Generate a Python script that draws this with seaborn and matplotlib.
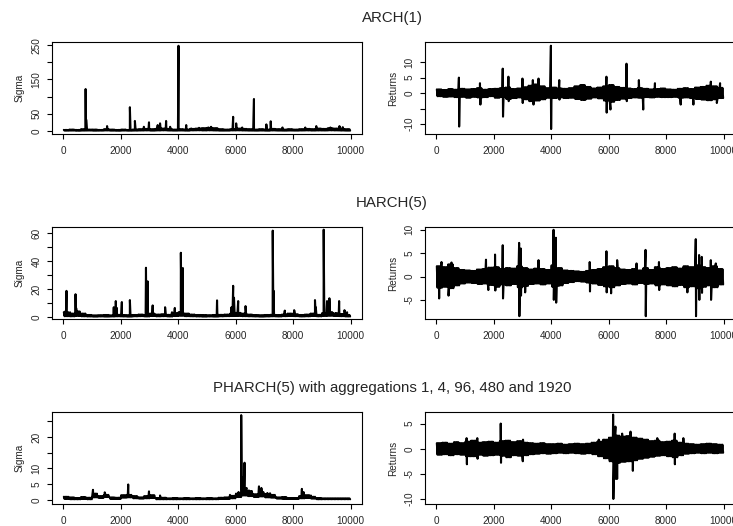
import numpy as np
import pandas as pd
import matplotlib
matplotlib.use("Agg")
import matplotlib.pyplot as plt
import seaborn as sns

# R-like base graphics look: white, boxed, outward ticks
sns.set_style("ticks")
plt.rcParams["font.family"] = ["Liberation Sans", "DejaVu Sans"]

# --- values ------------------------------------------------------------
# noise band: upper/lower envelope per 200-step block, plus spikes (t, value)

# ARCH(1)
arch_sig_hi = [3, 4, 3, 5, 4, 4, 3, 5, 4, 3,
               4, 3, 4, 5, 6, 5, 6, 7, 6, 4,
               5, 4, 6, 7, 8, 9, 8, 5, 4, 5,
               7, 6, 5, 4, 5, 4, 6, 5, 4, 5,
               4, 5, 6, 5, 7, 6, 8, 7, 6, 5]
arch_sig_lo = [0.8, 1.0, 0.6, 0.9, 1.1, 0.7, 0.9, 1.2, 0.8, 0.6,
               1.0, 0.7, 0.9, 1.1, 1.3, 0.8, 1.2, 1.5, 1.0, 0.9,
               1.1, 0.8, 1.4, 1.6, 1.2, 1.5, 1.1, 0.8, 0.9, 1.3,
               1.4, 1.1, 0.9, 0.8, 1.0, 0.7, 1.2, 0.9, 0.8, 1.0,
               0.9, 1.1, 1.3, 1.0, 1.2, 1.1, 1.5, 1.3, 1.0, 0.8]
arch_sig_spike_t = [771, 790, 1519, 2313, 2488, 2800, 2979, 3283, 3364, 3575, 3715,
                    4007, 4276, 4451, 4720, 5050, 5140, 5911, 6016, 6227, 6636,
                    7068, 7220, 7630, 8423, 8808, 9299, 9615, 9731]
arch_sig_spike_v = [122, 33, 14, 69, 29, 12, 25, 17, 22, 29, 12,
                    248, 17, 7, 9, 10, 12, 41, 22, 10, 93,
                    19, 28, 10, 10, 14, 10, 14, 11]

arch_ret_hi = [1.2, 1.0, 1.3, 1.1, 1.4, 1.2, 1.3, 1.6, 1.1, 1.3,
               1.4, 1.6, 1.8, 1.3, 1.5, 1.9, 2.4, 2.8, 2.2, 1.6,
               1.8, 1.5, 1.4, 1.6, 2.2, 2.6, 2.0, 1.5, 1.8, 2.2,
               2.6, 2.0, 1.7, 1.5, 1.3, 1.6, 1.4, 1.2, 1.3, 1.5,
               1.2, 1.1, 1.4, 1.6, 1.3, 1.8, 2.0, 2.4, 2.2, 1.7]
arch_ret_lo = [-1.0, -1.2, -1.1, -1.3, -1.2, -1.5, -1.2, -1.4, -1.3, -1.0,
               -1.5, -1.3, -1.9, -1.6, -1.4, -2.0, -2.6, -2.4, -2.0, -1.5,
               -1.6, -1.4, -1.6, -1.5, -1.9, -2.2, -1.8, -1.4, -1.7, -2.4,
               -2.8, -2.2, -1.8, -1.6, -1.4, -1.5, -1.3, -1.4, -1.2, -1.3,
               -1.3, -1.2, -1.5, -1.4, -1.6, -1.9, -2.1, -2.3, -2.0, -1.6]
arch_ret_spike_t = [781, 790, 1515, 1530, 2308, 2318, 2506, 2515, 2995, 3005,
                    3357, 3380, 3555, 3986, 3994, 4277, 4285, 5921, 5930, 6061,
                    6620, 6630, 7051, 7203, 7611, 8508, 8951, 9557, 9767, 9880]
arch_ret_spike_v = [5.0, -10.8, 3.2, -3.7, 7.9, -7.6, 5.3, -2.6, 4.7, -3.2,
                    4.2, -3.7, 4.7, 15.3, -11.6, 4.2, -2.1, 5.3, -6.3, -5.3,
                    9.5, -2.6, 4.2, -5.3, 3.2, -3.7, -3.7, 3.7, -3.2, 3.2]

# HARCH(5)
harch_sig_hi = [3.5, 2.5, 4.0, 2.5, 1.5, 1.2, 1.3, 1.5, 1.2, 1.6,
                1.4, 1.3, 1.5, 1.8, 1.4, 2.5, 1.8, 2.0, 1.6, 2.8,
                3.5, 2.5, 1.8, 1.5, 1.4, 1.3, 1.5, 1.6, 1.8, 2.5,
                3.0, 2.5, 1.8, 1.4, 1.3, 1.5, 1.6, 1.4, 1.8, 2.5,
                2.0, 1.5, 1.8, 2.5, 1.6, 2.8, 3.5, 2.6, 2.2, 1.5]
harch_sig_lo = [0.6, 0.5, 0.8, 0.5, 0.4, 0.3, 0.4, 0.3, 0.4, 0.5,
                0.4, 0.3, 0.5, 0.6, 0.4, 0.7, 0.5, 0.6, 0.4, 0.7,
                0.9, 0.6, 0.5, 0.4, 0.3, 0.4, 0.3, 0.5, 0.6, 0.7,
                0.8, 0.6, 0.5, 0.4, 0.3, 0.4, 0.5, 0.4, 0.6, 0.7,
                0.6, 0.4, 0.5, 0.7, 0.5, 0.8, 0.9, 0.7, 0.6, 0.4]
harch_sig_spike_t = [60, 105, 230, 420, 440, 1752, 1822, 1860, 2033, 2313,
                     2874, 2932, 3107, 3540, 3780, 3879, 4089, 4159, 5350, 5853,
                     5911, 5940, 6086, 6343, 7290, 7320, 7710, 8037, 8762, 8790,
                     9065, 9182, 9264, 9500, 9603, 9790, 9880]
harch_sig_spike_v = [4, 18.7, 3.4, 16.3, 6.5, 7, 11.4, 6.5, 10.7, 12.1,
                     35.2, 25.5, 8.3, 7, 3.4, 6.5, 45.9, 35, 11.9, 7,
                     22.3, 13.8, 11.4, 7.8, 61.7, 18.7, 4.6, 4.9, 12.1, 7,
                     62.4, 11.4, 13.4, 2.9, 11.4, 4.9, 3.4]

harch_ret_hi = [2.2, 2.0, 2.6, 1.8, 1.4, 1.3, 1.2, 1.5, 1.6, 1.9,
                2.0, 1.6, 1.8, 1.7, 2.2, 1.8, 1.5, 1.7, 1.6, 1.4,
                2.4, 1.8, 1.3, 1.2, 1.1, 1.0, 1.2, 1.4, 1.6, 2.0,
                2.2, 1.8, 1.5, 1.4, 1.6, 1.3, 1.8, 1.4, 2.0, 1.6,
                1.8, 2.0, 1.7, 2.2, 2.0, 2.4, 2.0, 1.8, 2.2, 1.6]
harch_ret_lo = [-2.4, -2.2, -2.5, -1.9, -1.5, -1.3, -1.4, -1.6, -1.5, -1.8,
                -2.2, -1.7, -1.9, -1.6, -2.3, -2.0, -1.6, -1.5, -1.7, -1.5,
                -2.2, -1.9, -1.4, -1.2, -1.0, -1.1, -1.3, -1.5, -1.8, -2.1,
                -2.3, -1.9, -1.6, -1.5, -1.7, -1.4, -1.6, -1.5, -1.9, -1.7,
                -1.9, -2.1, -1.8, -2.3, -2.1, -2.5, -2.2, -1.9, -2.3, -1.7]
harch_ret_spike_t = [93, 175, 420, 524, 1725, 1807, 2040, 2050, 2308, 2318,
                     2879, 2888, 2937, 2945, 3089, 3555, 4079, 4088, 4161, 4170,
                     4254, 5338, 5348, 5921, 5930, 6084, 6294, 6970, 7284, 7292,
                     7751, 7760, 8741, 9033, 9042, 9149, 9158, 9242, 9251, 9557,
                     9566, 9732, 9790]
harch_ret_spike_v = [-4.7, 3.1, -4.1, 3.0, 3.6, -2.9, 4.7, -3.0, 6.7, -4.7,
                     7.2, -8.5, 6.0, -4.1, -3.4, 3.5, 10.0, -5.0, 8.3, -5.6,
                     -2.0, 3.1, -3.2, 5.4, -3.4, -3.6, 3.5, 2.8, 5.7, -8.5,
                     3.1, -2.9, -3.4, 8.0, -8.5, 4.6, -5.0, 4.2, -3.5, 3.5,
                     -5.0, 2.8, -2.0]

# PHARCH(5)
pharch_sig_hi = [1.0, 0.8, 0.6, 0.9, 0.7, 2.0, 1.2, 1.6, 0.8, 0.7,
                 1.5, 1.6, 1.2, 0.8, 1.2, 1.5, 0.6, 0.7, 0.5, 0.6,
                 0.5, 0.6, 0.5, 0.6, 0.5, 0.6, 0.5, 0.7, 0.8, 1.3,
                 2.0, 3.5, 2.8, 1.8, 2.5, 1.9, 1.6, 0.8, 0.9, 0.6,
                 0.6, 1.2, 1.5, 1.0, 0.6, 0.5, 0.5, 0.5, 0.5, 0.5]
pharch_sig_lo = [0.3, 0.2, 0.2, 0.3, 0.2, 0.8, 0.6, 0.9, 0.3, 0.3,
                 0.7, 0.8, 0.5, 0.4, 0.5, 0.6, 0.2, 0.2, 0.2, 0.2,
                 0.2, 0.2, 0.2, 0.2, 0.2, 0.2, 0.2, 0.3, 0.3, 0.5,
                 0.9, 1.4, 1.2, 0.9, 1.1, 0.8, 0.7, 0.4, 0.3, 0.3,
                 0.3, 0.5, 0.6, 0.4, 0.2, 0.2, 0.2, 0.2, 0.2, 0.2]
pharch_sig_spike_t = [1028, 1060, 1437, 2255, 2979, 3364, 5800, 6100, 6192, 6230,
                      6308, 6379, 6460, 6811, 6893, 7103, 7196, 8306, 8364, 8621]
pharch_sig_spike_v = [3.2, 2.0, 2.4, 4.9, 2.7, 1.4, 1.6, 2.5, 26.9, 7.2,
                      11.8, 3.8, 3.0, 4.3, 3.8, 2.2, 2.1, 3.5, 2.5, 1.4]

pharch_ret_hi = [1.1, 1.2, 1.0, 1.3, 1.1, 1.4, 1.6, 1.2, 1.3, 1.4,
                 1.2, 1.5, 1.6, 1.3, 1.5, 1.2, 1.1, 1.0, 1.1, 0.9,
                 0.9, 1.0, 0.8, 0.9, 1.0, 0.9, 1.0, 1.2, 1.4, 1.8,
                 2.2, 2.6, 2.4, 2.5, 2.2, 2.0, 1.8, 1.5, 1.6, 1.3,
                 1.4, 1.6, 1.2, 1.0, 0.9, 0.8, 0.9, 1.0, 0.9, 0.8]
pharch_ret_lo = [-1.2, -1.1, -1.3, -1.1, -1.2, -1.5, -1.5, -1.2, -1.4, -1.3,
                 -1.2, -1.4, -1.7, -1.3, -1.4, -1.3, -1.1, -1.0, -0.9, -1.0,
                 -0.9, -0.8, -0.9, -0.8, -0.9, -1.0, -0.9, -1.1, -1.5, -1.9,
                 -2.5, -2.8, -2.6, -2.5, -2.3, -2.0, -1.8, -1.6, -1.4, -1.3,
                 -1.5, -1.7, -1.3, -1.0, -0.9, -0.8, -0.9, -0.8, -0.9, -0.8]
pharch_ret_spike_t = [1049, 1060, 1422, 1432, 2238, 2248, 3007, 3015, 5653, 6154,
                      6162, 6235, 6245, 6294, 6469, 6760, 6841, 7692, 8298, 8306, 8601]
pharch_ret_spike_v = [2.1, -3.1, 2.1, -2.0, 5.0, -2.8, -2.5, 1.8, 1.8, 6.8,
                      -10.0, 4.4, -6.0, -6.0, 3.0, 3.4, -4.4, 2.1, 3.0, -3.1, 2.1]

titles = ["ARCH(1)", "HARCH(5)", "PHARCH(5) with aggregations 1, 4, 96, 480 and 1920"]


def series(hi, lo, spike_t, spike_v):
    # each 200-step block swings between its upper and lower envelope
    # every 25 steps, so the noise reads as a solid band like the original
    hi = np.asarray(hi, float)
    lo = np.asarray(lo, float)
    k = np.arange(8)
    t_band = (np.arange(len(hi))[:, None] * 200 + 12 + k[None, :] * 25).ravel()
    v_band = np.where(k[None, :] % 2 == 0, hi[:, None], lo[:, None]).ravel()
    t = np.concatenate([t_band, spike_t])
    v = np.concatenate([v_band, spike_v])
    return pd.DataFrame({"t": t, "v": v}).sort_values("t", kind="stable")


panels = [
    # (row, col, data, ylabel, ylim, yticks, ylabels)
    (0, 0, series(arch_sig_hi, arch_sig_lo, arch_sig_spike_t, arch_sig_spike_v), "Sigma",
     (-9, 259), [0, 50, 100, 150, 200, 250], ["0", "50", "", "150", "", "250"]),
    (0, 1, series(arch_ret_hi, arch_ret_lo, arch_ret_spike_t, arch_ret_spike_v), "Returns",
     (-13.2, 16.5), [-10, -5, 0, 5, 10], ["-10", "", "0", "5", "10"]),
    (1, 0, series(harch_sig_hi, harch_sig_lo, harch_sig_spike_t, harch_sig_spike_v), "Sigma",
     (-1.4, 64.3), [0, 10, 20, 30, 40, 50, 60], ["0", "", "20", "", "40", "", "60"]),
    (1, 1, series(harch_ret_hi, harch_ret_lo, harch_ret_spike_t, harch_ret_spike_v), "Returns",
     (-9.1, 10.6), [-5, 0, 5, 10], ["-5", "0", "5", "10"]),
    (2, 0, series(pharch_sig_hi, pharch_sig_lo, pharch_sig_spike_t, pharch_sig_spike_v), "Sigma",
     (-1.3, 27.9), [0, 5, 10, 15, 20, 25], ["0", "5", "10", "", "20", ""]),
    (2, 1, series(pharch_ret_hi, pharch_ret_lo, pharch_ret_spike_t, pharch_ret_spike_v), "Returns",
     (-11.0, 7.3), [-10, -5, 0, 5], ["-10", "-5", "0", "5"]),
]

W, H = 733, 526
fig = plt.figure(figsize=(W / 100, H / 100), dpi=100)

for row, col, df, ylab, ylim, yt, yl in panels:
    left = 52 if col == 0 else 425
    bottom = 134 + 185 * row
    ax = fig.add_axes([left / W, 1 - bottom / H, 310 / W, 92 / H])
    sns.lineplot(data=df, x="t", y="v", estimator=None, sort=False,
                 color="black", linewidth=1.5, ax=ax)
    ax.set_xlim(-400, 10400)
    ax.set_xticks(range(0, 10001, 2000))
    ax.set_ylim(*ylim)
    ax.set_yticks(yt)
    ax.set_yticklabels(yl)
    ax.set_xlabel("")
    ax.set_ylabel(ylab, fontsize=7.2, labelpad=5)
    ax.tick_params(axis="both", length=3.5, width=0.8, labelsize=7.2, color="black")
    ax.tick_params(axis="x", pad=5)
    ax.tick_params(axis="y", labelrotation=90, pad=4)
    for lab in ax.get_yticklabels():
        lab.set_va("center")
    for sp in ax.spines.values():
        sp.set_color("black")
        sp.set_linewidth(0.8)

for row, title in enumerate(titles):
    fig.text(392 / W, 1 - (18 + 185 * row) / H, title, ha="center", va="center", fontsize=10.8)

fig.savefig("out.png", dpi=100)
